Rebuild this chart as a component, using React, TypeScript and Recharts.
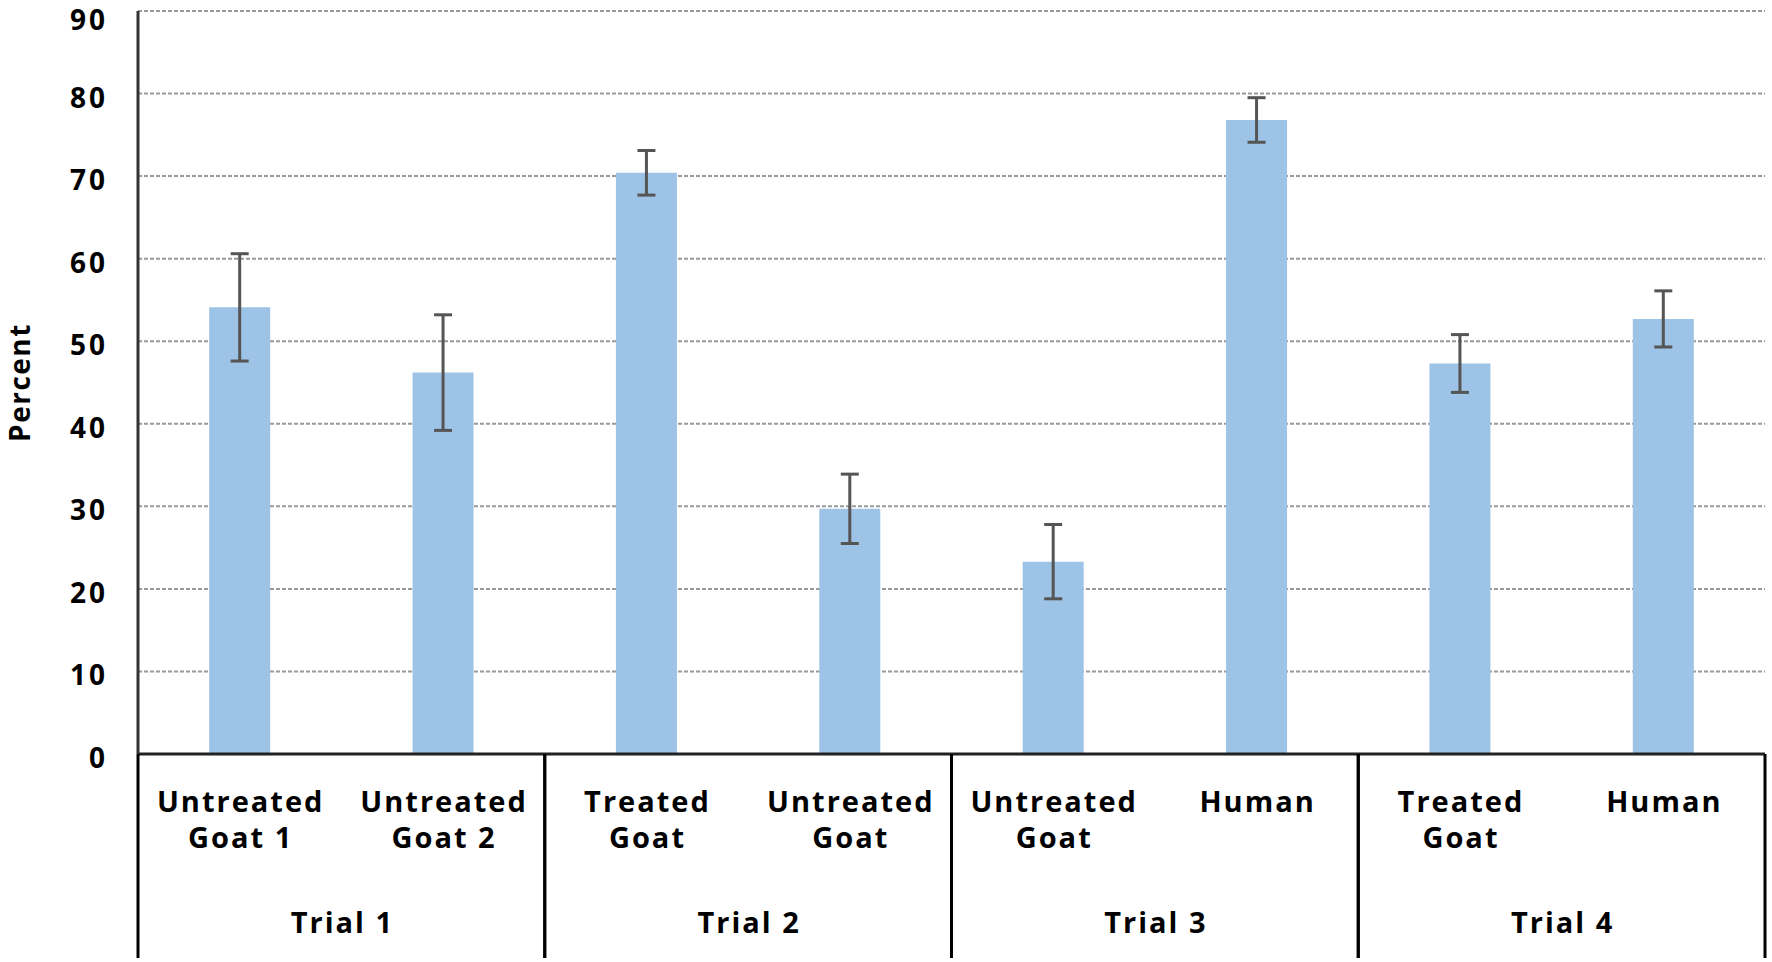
import { BarChart, Bar, XAxis, YAxis, CartesianGrid, ErrorBar } from 'recharts'

const labelTop = ['Untreated', 'Untreated', 'Treated', 'Untreated', 'Untreated', 'Human', 'Treated', 'Human']
const labelBottom = ['Goat 1', 'Goat 2', 'Goat', 'Goat', 'Goat', '', 'Goat', '']
const trials = ['Trial 1', 'Trial 1', 'Trial 2', 'Trial 2', 'Trial 3', 'Trial 3', 'Trial 4', 'Trial 4']
const percent = [54.1, 46.2, 70.4, 29.7, 23.3, 76.8, 47.3, 52.7]
const errors = [6.5, 7.0, 2.7, 4.2, 4.5, 2.7, 3.5, 3.4]
const yTicks = [0, 10, 20, 30, 40, 50, 60, 70, 80, 90]

const W = 1772
const H = 962
const LEFT = 138
const RIGHT = 7
const TOP = 11
const BOTTOM = 208
const PLOT_BOTTOM = H - BOTTOM
const CAT_W = (W - LEFT - RIGHT) / labelTop.length
const FONT = "'Open Sans', 'Noto Sans', sans-serif"

const data = labelTop.map((t, i) => ({
  id: `${t} ${labelBottom[i]} ${i}`,
  top: t,
  bottom: labelBottom[i],
  trial: trials[i],
  value: percent[i],
  err: errors[i],
}))

const textStyle = { fontFamily: FONT, fontWeight: 700, fontSize: 29, fill: '#000', letterSpacing: 2 }

function CategoryTick(props: any) {
  const { x, index } = props
  const d = data[index]
  if (!d) return null
  const first = index === 0 || trials[index - 1] !== d.trial
  const last = index === data.length - 1 || trials[index + 1] !== d.trial
  return (
    <g>
      <text x={x + 1} y={PLOT_BOTTOM + 58} textAnchor="middle" {...textStyle}>{d.top}</text>
      {d.bottom && (
        <text x={x + 1} y={PLOT_BOTTOM + 94} textAnchor="middle" {...textStyle}>{d.bottom}</text>
      )}
      {first && (
        <line x1={x - CAT_W / 2} x2={x - CAT_W / 2} y1={PLOT_BOTTOM} y2={H - 4} stroke="#000" strokeWidth={3} />
      )}
      {last && (
        <line x1={x + CAT_W / 2} x2={x + CAT_W / 2} y1={PLOT_BOTTOM} y2={H - 4} stroke="#000" strokeWidth={3} />
      )}
      {!first && (
        <text x={x - CAT_W / 2 + 1} y={PLOT_BOTTOM + 179} textAnchor="middle" {...textStyle}>{d.trial}</text>
      )}
    </g>
  )
}

function PercentTick(props: any) {
  const { x, y, payload } = props
  // keep the top label inside the picture
  const baseline = Math.max(y + 14, 30)
  return (
    <text x={x} y={baseline} textAnchor="end" fontFamily={FONT} fontWeight={700} fontSize={28} fill="#000" letterSpacing={3}>
      {payload.value}
    </text>
  )
}

export default function App() {
  return (
    <div style={{ position: 'absolute', left: 0, top: 0, width: W, height: H, background: '#fff', fontFamily: FONT }}>
      <BarChart
        width={W}
        height={H}
        data={data}
        margin={{ top: TOP, right: RIGHT, left: 0, bottom: 0 }}
        barCategoryGap="35%"
      >
        <CartesianGrid vertical={false} stroke="#999" strokeWidth={2} strokeDasharray="4 2" />
        <XAxis
          dataKey="id"
          height={BOTTOM}
          interval={0}
          tick={<CategoryTick />}
          tickLine={false}
          axisLine={{ stroke: '#222', strokeWidth: 3 }}
        />
        <YAxis
          width={LEFT}
          domain={[0, 90]}
          ticks={yTicks}
          interval={0}
          tickLine={false}
          tickMargin={24}
          axisLine={{ stroke: '#333', strokeWidth: 3 }}
          tick={<PercentTick />}
          label={{
            value: 'Percent',
            angle: -90,
            position: 'insideLeft',
            offset: 20,
            style: { textAnchor: 'middle', fontFamily: FONT, fontWeight: 700, fontSize: 28, fill: '#000', letterSpacing: 1.5 },
          }}
        />
        <Bar dataKey="value" fill="#9dc3e6" isAnimationActive={false}>
          <ErrorBar dataKey="err" width={9} stroke="#555" strokeWidth={3} isAnimationActive={false} />
        </Bar>
      </BarChart>
    </div>
  )
}
